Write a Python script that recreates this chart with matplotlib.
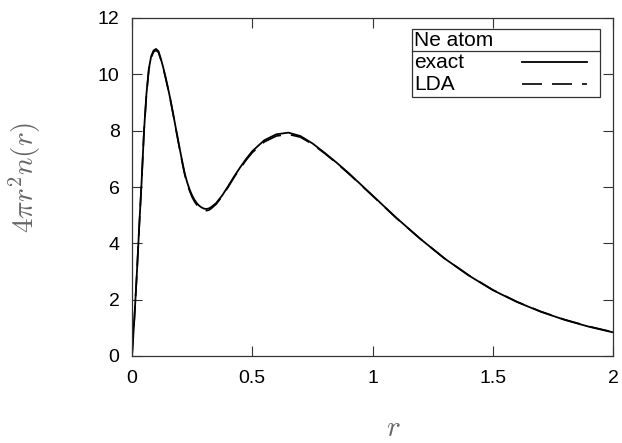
import numpy as np
import matplotlib
matplotlib.use("Agg")
import matplotlib.pyplot as plt

plt.rcParams["font.family"] = ["Liberation Sans", "DejaVu Sans"]
plt.rcParams["mathtext.fontset"] = "cm"

# radius r (a.u.) and radial density 4 pi r^2 n(r)
r = [0.0, 0.01, 0.02, 0.03, 0.04, 0.05, 0.06, 0.07, 0.08, 0.09, 0.10, 0.11,
     0.12, 0.13, 0.14, 0.15, 0.16, 0.17, 0.18, 0.19, 0.20, 0.21, 0.22, 0.23,
     0.24, 0.25, 0.26, 0.27, 0.28, 0.29, 0.30, 0.31, 0.32, 0.33, 0.35, 0.375,
     0.40, 0.425, 0.45, 0.475, 0.50, 0.55, 0.60, 0.65, 0.70, 0.75, 0.80, 0.85,
     0.90, 1.00, 1.10, 1.20, 1.30, 1.40, 1.50, 1.60, 1.70, 1.80, 1.90, 2.00]
exact = [0.0, 1.35, 2.9, 4.6, 6.2, 8.0, 9.3, 10.2, 10.65, 10.85, 10.9, 10.82,
         10.55, 10.24, 9.88, 9.50, 9.09, 8.65, 8.19, 7.74, 7.29, 6.86, 6.45, 6.15,
         5.90, 5.70, 5.54, 5.42, 5.33, 5.27, 5.23, 5.22, 5.24, 5.29, 5.43, 5.70,
         6.03, 6.38, 6.70, 7.00, 7.27, 7.66, 7.87, 7.93, 7.81, 7.55, 7.22, 6.87,
         6.50, 5.70, 4.90, 4.15, 3.46, 2.86, 2.34, 1.92, 1.57, 1.28, 1.04, 0.84]
lda = [0.0, 1.35, 2.9, 4.6, 6.2, 7.98, 9.27, 10.16, 10.6, 10.8, 10.85, 10.78,
       10.52, 10.21, 9.86, 9.48, 9.07, 8.63, 8.17, 7.71, 7.26, 6.82, 6.41, 6.10,
       5.85, 5.64, 5.48, 5.36, 5.27, 5.21, 5.17, 5.16, 5.18, 5.24, 5.39, 5.67,
       6.00, 6.35, 6.66, 6.96, 7.22, 7.60, 7.81, 7.87, 7.77, 7.52, 7.20, 6.85,
       6.48, 5.69, 4.89, 4.15, 3.46, 2.87, 2.35, 1.93, 1.58, 1.29, 1.05, 0.85]

fig = plt.figure(figsize=(6.22, 4.43), dpi=100)
ax = fig.add_axes([132 / 622, 1 - 356 / 443, 481 / 622, 338 / 443])

ax.plot(r, exact, color="black", lw=1.3)
ax.plot(r, lda, color="black", lw=1.2, dashes=(12, 6))

ax.set_xlim(0, 2)
ax.set_ylim(0, 12)
ax.set_xticks([0, 0.5, 1, 1.5, 2])
ax.set_xticklabels(["0", "0.5", "1", "1.5", "2"])
ax.set_yticks(range(0, 13, 2))
ax.tick_params(direction="in", length=7, width=0.8, top=True, right=True,
               labelsize=14, color="#333333")
ax.tick_params(axis="x", pad=10)
ax.tick_params(axis="y", pad=9)
for s in ax.spines.values():
    s.set_linewidth(0.9)
    s.set_color("#333333")

fig.text(25 / 622, 1 - 178 / 443, r"$4\pi r^2 n(r)$", rotation=90,
         ha="center", va="center", fontsize=21, color="#666666")
fig.text(393 / 622, 1 - 428 / 443, r"$r$", ha="center", va="center",
         fontsize=21, color="#666666")

# legend box with a title row
x0, x1, y0, y1, ysep = 0.582, 0.973, 0.766, 0.967, 0.902
ax.add_patch(plt.Rectangle((x0, y0), x1 - x0, y1 - y0, transform=ax.transAxes,
                           fill=True, facecolor="white", edgecolor="#333333",
                           lw=0.9, zorder=5))
ax.plot([x0, x1], [ysep, ysep], transform=ax.transAxes, color="#333333",
        lw=0.9, zorder=6)
ax.text(x0 + 0.004, 0.934, "Ne atom", transform=ax.transAxes, ha="left",
        va="center", fontsize=15, zorder=6)
ax.text(x0 + 0.004, 0.868, "exact", transform=ax.transAxes, ha="left",
        va="center", fontsize=15, zorder=6)
ax.text(x0 + 0.004, 0.803, "LDA", transform=ax.transAxes, ha="left",
        va="center", fontsize=15, zorder=6)
ax.plot([0.811, 0.946], [0.870, 0.870], transform=ax.transAxes,
        color="black", lw=1.3, zorder=6)
ax.plot([0.811, 0.946], [0.805, 0.805], transform=ax.transAxes,
        color="black", lw=1.2, dashes=(12, 6), zorder=6)

fig.savefig("out.png", dpi=100)
